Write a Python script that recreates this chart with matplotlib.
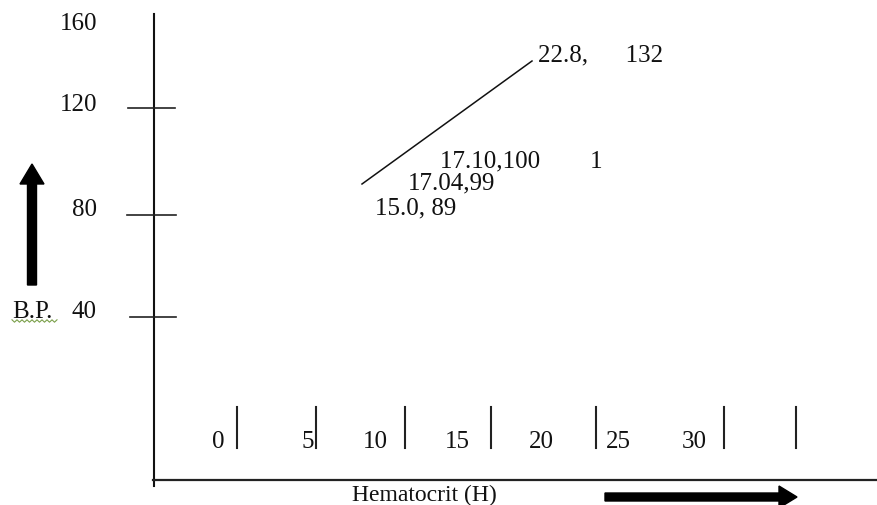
import numpy as np
import matplotlib
matplotlib.use("Agg")
import matplotlib.pyplot as plt

plt.rcParams["font.family"] = ["Liberation Serif", "DejaVu Serif"]

# ---- data (values as written on the sketch) ----
bp_ticks = [160, 120, 80, 40]
h_ticks = [0, 5, 10, 15, 20, 25, 30]
point_labels = ["15.0, 89", "17.04,99", "17.10,100        1", "22.8,      132"]
line_h = [15.0, 22.8]
line_bp = [89, 132]
x_title = "Hematocrit (H)"
y_title = "B.P."

# ---- layout of the hand-drawn sketch (canvas pixels) ----
W, H = 877, 506
FS = 18
yaxis_x, yaxis_top, yaxis_bot = 153.5, 15, 487
xaxis_y = 481
ytick_y = [None, 109, 216, 318]
ytick_x0 = [None, 128, 127, 130]
ytick_x1 = [None, 175, 176, 176]
ylab_y = [24, 105, 210, 312]
xtick_x = [237, 316, 405, 491, 596, 724, 796]
xlab_x = [218, 308, 375, 457, 541, 618, 694]
pt_lab_x = [375, 408, 440, 538]
pt_lab_y = [208, 183, 161, 55]
# pixel anchors of the drawn line end points
line_px = [362, 532]
line_py = [185, 62]

fig = plt.figure(figsize=(W / 100, H / 100), dpi=100)
fig.patch.set_facecolor("white")

canvas = fig.add_axes([0, 0, 1, 1])
canvas.set_xlim(0, W); canvas.set_ylim(H, 0)
canvas.axis("off")

# axes lines
canvas.plot([yaxis_x, yaxis_x], [yaxis_top, yaxis_bot], color="#111111", lw=1.5)
canvas.plot([yaxis_x - 0.5, W], [xaxis_y, xaxis_y], color="#222222", lw=1.6)

# y ticks + labels
for v, ty, x0, x1, ly in zip(bp_ticks, ytick_y, ytick_x0, ytick_x1, ylab_y):
    if ty is not None:
        canvas.plot([x0, x1], [ty, ty], color="#222222", lw=1.2)
    canvas.text(97, ly, str(v), ha="right", va="center", fontsize=FS, color="#111111")

# x ticks + labels
for tx in xtick_x:
    canvas.plot([tx, tx], [408, 449], color="#222222", lw=1.5)
for v, lx in zip(h_ticks, xlab_x):
    canvas.text(lx, 442, str(v), ha="center", va="center", fontsize=FS, color="#111111")

# point annotations
for s, lx, ly in zip(point_labels, pt_lab_x, pt_lab_y):
    canvas.text(lx, ly, s, ha="left", va="center", fontsize=FS, color="#111111")

# axis titles
canvas.text(12, 312, y_title, ha="left", va="center", fontsize=FS, color="#111111")
sx = np.arange(12, 59, 2.5)
sy = 322 + np.where(np.arange(len(sx)) % 2 == 0, -1.2, 1.2)
canvas.plot(sx, sy, color="#7aa04a", lw=0.8)
canvas.text(424, 501, x_title, ha="center", va="baseline", fontsize=17, color="#111111")

# direction arrows
canvas.arrow(32, 286, 0, -121, width=9, head_width=24, head_length=20,
             length_includes_head=True, color="black")
canvas.arrow(605, 498, 192, 0, width=8, head_width=22, head_length=18,
             length_includes_head=True, color="black")

# the line, drawn in (H, B.P.) data units
ax = fig.add_axes([0, 0, 1, 1])
ax.patch.set_alpha(0)
sxp = (line_px[1] - line_px[0]) / (line_h[1] - line_h[0])
syp = (line_py[0] - line_py[1]) / (line_bp[1] - line_bp[0])
ax.set_xlim(line_h[0] - line_px[0] / sxp, line_h[0] + (W - line_px[0]) / sxp)
ax.set_ylim(line_bp[0] - (H - line_py[0]) / syp, line_bp[0] + line_py[0] / syp)
ax.plot(line_h, line_bp, color="#111111", lw=1.1)
ax.axis("off")

fig.savefig("out.png", dpi=100, facecolor="white")
